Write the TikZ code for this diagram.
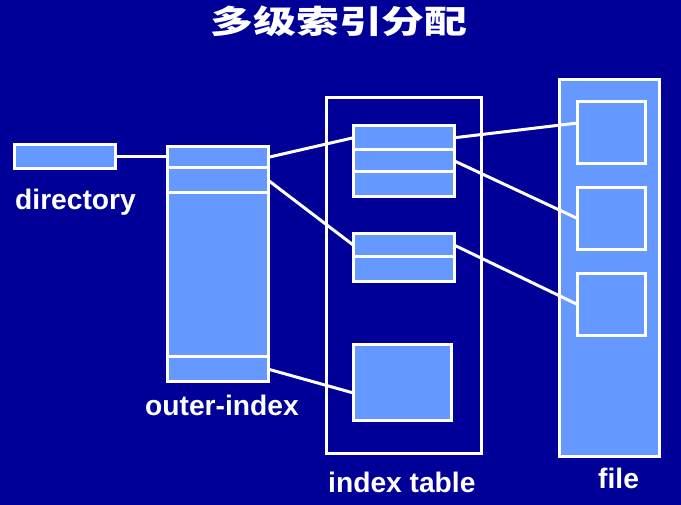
\documentclass[tikz,border=0pt]{standalone}
\usepackage{fontspec}
\setmainfont{Liberation Sans}
\newfontfamily\cjkfont{Noto Sans CJK SC}
\definecolor{bgblue}{RGB}{0,0,153}
\definecolor{lightblk}{RGB}{102,153,255}
\tikzset{
  blk/.style={draw=white, line width=3pt, fill=lightblk, rectangle, inner sep=0pt, outer sep=0pt},
  frm/.style={draw=white, line width=3pt, fill=bgblue, rectangle, inner sep=0pt, outer sep=0pt},
  conn/.style={draw=white, line width=3pt},
  lbl/.style={text=white, font=\fontsize{28.2}{28.2}\selectfont\bfseries, inner sep=0pt, anchor=base west},
  ttl/.style={text=white, font=\cjkfont\bfseries\fontsize{32}{32}\selectfont, inner sep=0pt}
}
\begin{document}
\begin{tikzpicture}[x=1pt,y=-1pt]
\fill[bgblue] (0,0) rectangle (681,505);
\useasboundingbox (0,0) rectangle (681,505);
% title
\node[ttl] (title) at (339,21) {\scalebox{1.34}[1]{多级索引分配}};
% directory
\node[blk, minimum width=101pt, minimum height=24pt] (dir) at (65,156.5) {};
\node[lbl] (dirlbl) at (15,210) {directory};
% outer index
\node[blk, minimum width=101pt, minimum height=21.5pt] (o1) at (218,157.25) {};
\node[blk, minimum width=101pt, minimum height=25pt] (o2) at (218,180.5) {};
\node[blk, minimum width=101pt, minimum height=164pt] (o3) at (218,275) {};
\node[blk, minimum width=101pt, minimum height=24.5pt] (o4) at (218,369.25) {};
\node[lbl] (olbl) at (145,416) {outer-index};
% index table frame
\node[frm, minimum width=155pt, minimum height=356pt] (itab) at (404,275.5) {};
\node[blk, minimum width=101pt, minimum height=24.5pt] (i1) at (404,137.75) {};
\node[blk, minimum width=101pt, minimum height=22pt] (i2) at (404,161) {};
\node[blk, minimum width=101pt, minimum height=24.5pt] (i3) at (404,184.25) {};
\node[blk, minimum width=101pt, minimum height=23.5pt] (i4) at (404,245.25) {};
\node[blk, minimum width=101pt, minimum height=24.5pt] (i5) at (404,269.25) {};
\node[blk, minimum width=98pt, minimum height=76pt] (i6) at (402.5,382.5) {};
\node[lbl] (ilbl) at (328,492) {index table};
% file
\node[blk, minimum width=100pt, minimum height=377pt] (file) at (609.5,268) {};
\node[blk, minimum width=68pt, minimum height=62pt] (f1) at (611.5,132.5) {};
\node[blk, minimum width=68pt, minimum height=62pt] (f2) at (611.5,218.5) {};
\node[blk, minimum width=68pt, minimum height=62pt] (f3) at (611.5,304.5) {};
\node[lbl] (flbl) at (598,489) {file};
% connectors
\draw[conn] (dir.east) -- (dir.east -| o1.west);
\draw[conn] (o1.east) -- (i1.west);
\draw[conn] (o2.east) -- (i4.west);
\draw[conn] (o4.east) -- ([yshift=-10.5pt]i6.west);
\draw[conn] (i1.east) -- ([yshift=9.5pt]f1.west);
\draw[conn] (i2.east) -- (f2.west);
\draw[conn] (i4.east) -- (f3.west);
\end{tikzpicture}
\end{document}
